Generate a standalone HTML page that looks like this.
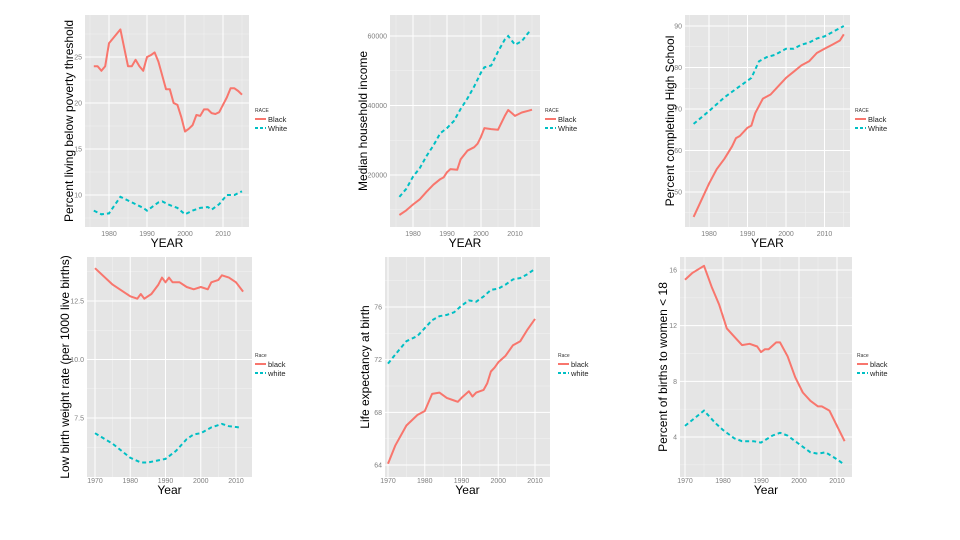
<!DOCTYPE html>
<html><head><meta charset="utf-8"><style>
body{margin:0;background:#fff;width:960px;height:540px;overflow:hidden;font-family:"Liberation Sans",sans-serif}
svg{display:block}
</style></head><body>
<svg id="c" width="960" height="540"></svg>
<script>
// Panel 1: poverty
const p1BlackYears=[1976,1977,1978,1979,1980,1981,1982,1983,1984,1985,1986,1987,1988,1989,1990,1991,1992,1993,1994,1995,1996,1997,1998,1999,2000,2001,2002,2003,2004,2005,2006,2007,2008,2009,2010,2011,2012,2013,2014,2015];
const p1Black=[24,24,23.5,24,26.5,27,27.5,28,26,24,24,24.7,24,23.5,25,25.2,25.5,24.5,23,21.5,21.5,20,19.8,18.5,16.9,17.2,17.6,18.7,18.6,19.3,19.3,18.9,18.8,19.0,19.8,20.6,21.6,21.6,21.3,20.9];
const p1WhiteYears=[1976,1978,1980,1983,1985,1987,1989,1990,1991,1993,1994,1996,1998,2000,2002,2004,2006,2007,2009,2011,2013,2015];
const p1White=[8.3,7.9,8.0,9.8,9.4,9.0,8.6,8.3,8.6,9.2,9.3,8.9,8.6,7.9,8.3,8.6,8.7,8.4,9.0,10.0,10.0,10.4];
// Panel 2: income
const p2BlackYears=[1976,1978,1980,1982,1984,1986,1988,1989,1990,1991,1993,1994,1996,1998,1999,2000,2001,2003,2005,2007,2008,2010,2012,2014,2015];
const p2Black=[8500,9800,11500,13000,15200,17200,18800,19300,20800,21700,21500,24500,27000,28000,29000,31000,33500,33200,33000,37000,38700,37000,38000,38500,38800];
const p2WhiteYears=[1976,1978,1980,1982,1984,1986,1988,1990,1992,1994,1996,1998,2000,2001,2003,2005,2007,2008,2010,2012,2014,2015];
const p2White=[13700,16000,19500,22000,25500,28500,32000,33500,35500,39000,42000,45500,49500,51000,51500,55500,59000,60000,57500,58500,61000,61500];
// Panel 3: high school
const p3BlackYears=[1976,1978,1980,1982,1984,1986,1987,1988,1990,1991,1992,1994,1996,1998,2000,2002,2004,2006,2008,2010,2012,2014,2015];
const p3Black=[44,48,52,55.5,58,61,63,63.5,65.5,66,69,72.5,73.5,75.5,77.5,79,80.5,81.5,83.5,84.5,85.5,86.5,88];
const p3WhiteYears=[1976,1980,1984,1988,1991,1993,1995,1997,2000,2002,2004,2006,2008,2010,2012,2014,2015];
const p3White=[66.4,69.5,72.8,75.5,77.5,81.5,82.5,83,84.5,84.5,85.5,86,87,87.5,88.5,89.5,90];
// Panel 4: low birth weight
const p4BlackYears=[1970,1975,1980,1982,1983,1984,1986,1988,1989,1990,1991,1992,1994,1996,1998,2000,2002,2003,2005,2006,2008,2010,2012];
const p4Black=[13.9,13.2,12.7,12.6,12.8,12.6,12.8,13.2,13.5,13.3,13.5,13.3,13.3,13.1,13.0,13.1,13.0,13.3,13.4,13.6,13.5,13.3,12.9];
const p4WhiteYears=[1970,1975,1980,1983,1985,1990,1993,1996,1998,2000,2003,2006,2008,2011];
const p4White=[6.85,6.4,5.8,5.6,5.6,5.75,6.1,6.6,6.8,6.85,7.1,7.25,7.15,7.1];
// Panel 5: life expectancy
const p5BlackYears=[1970,1972,1975,1978,1980,1982,1984,1986,1988,1989,1990,1992,1993,1994,1996,1997,1998,1999,2000,2002,2003,2004,2006,2008,2010];
const p5Black=[64.1,65.5,67.0,67.8,68.1,69.4,69.5,69.1,68.9,68.8,69.1,69.6,69.2,69.5,69.7,70.2,71.1,71.4,71.8,72.3,72.7,73.1,73.4,74.3,75.1];
const p5WhiteYears=[1970,1972,1975,1978,1980,1982,1984,1986,1988,1990,1992,1994,1996,1998,2000,2002,2004,2006,2008,2010];
const p5White=[71.7,72.4,73.4,73.8,74.4,75.0,75.3,75.4,75.6,76.1,76.5,76.4,76.8,77.3,77.4,77.7,78.1,78.2,78.5,78.9];
// Panel 6: births to women < 18
const p6BlackYears=[1970,1972,1975,1977,1979,1981,1983,1985,1987,1989,1990,1991,1992,1994,1995,1997,1999,2001,2003,2005,2006,2008,2010,2012];
const p6Black=[15.3,15.8,16.3,14.8,13.5,11.8,11.2,10.6,10.7,10.5,10.1,10.3,10.3,10.8,10.8,9.8,8.3,7.2,6.6,6.2,6.2,5.9,4.8,3.7];
const p6WhiteYears=[1970,1975,1978,1980,1983,1985,1988,1990,1993,1995,1997,2000,2003,2005,2007,2010,2012];
const p6White=[4.8,5.9,5.0,4.5,3.9,3.7,3.7,3.6,4.1,4.3,4.1,3.5,2.9,2.8,2.9,2.4,2.0];

const p1XTicks=[1980,1990,2000,2010], p1YTicks=[10,15,20,25];
const p2XTicks=[1980,1990,2000,2010], p2YTicks=[20000,40000,60000];
const p3XTicks=[1980,1990,2000,2010], p3YTicks=[50,60,70,80,90];
const p4XTicks=[1970,1980,1990,2000,2010], p4YTicks=[7.5,10.0,12.5];
const p5XTicks=[1970,1980,1990,2000,2010], p5YTicks=[64,68,72,76];
const p6XTicks=[1970,1980,1990,2000,2010], p6YTicks=[4,8,12,16];

const NS='http://www.w3.org/2000/svg';
const svg=document.getElementById('c');
function mk(tag,attrs,parent){const e=document.createElementNS(NS,tag);for(const k in attrs)e.setAttribute(k,attrs[k]);(parent||svg).appendChild(e);return e;}

const panels=[
 {id:'poverty',box:[85,15,249,227],xs:[1980,109,2000,185],ys:[25,57,10,195],xt:p1XTicks,yt:p1YTicks,yfmt:v=>String(v),
  bY:p1BlackYears,b:p1Black,wY:p1WhiteYears,w:p1White,ylab:'Percent living below poverty threshold',ylx:70,xlab:'YEAR',xly:247,tko:9,leg:[255,112],lt:'RACE',ln:['Black','White']},
 {id:'income',box:[390,15,540,227],xs:[1980,413,2000,481],ys:[60000,36,20000,175],xt:p2XTicks,yt:p2YTicks,yfmt:v=>String(v),
  bY:p2BlackYears,b:p2Black,wY:p2WhiteYears,w:p2White,ylab:'Median household income',ylx:364,xlab:'YEAR',xly:247,tko:9,leg:[545,112],lt:'RACE',ln:['Black','White']},
 {id:'highschool',box:[685,15,850,227],xs:[1980,709,2000,786],ys:[90,26,50,192],xt:p3XTicks,yt:p3YTicks,yfmt:v=>String(v),
  bY:p3BlackYears,b:p3Black,wY:p3WhiteYears,w:p3White,ylab:'Percent completing High School',ylx:671,xlab:'YEAR',xly:247,tko:9,leg:[855,112],lt:'RACE',ln:['Black','White']},
 {id:'birthweight',box:[87,257,252,477],xs:[1970,95,2010,236],ys:[12.5,301,7.5,418],xt:p4XTicks,yt:p4YTicks,yfmt:v=>v.toFixed(1),
  bY:p4BlackYears,b:p4Black,wY:p4WhiteYears,w:p4White,ylab:'Low birth weight rate (per 1000 live births)',ylx:66,xlab:'Year',xly:494,tko:6,leg:[255,357],lt:'Race',ln:['black','white']},
 {id:'lifeexp',box:[385,257,550,477],xs:[1970,388,2010,535],ys:[76,307,64,465],xt:p5XTicks,yt:p5YTicks,yfmt:v=>String(v),
  bY:p5BlackYears,b:p5Black,wY:p5WhiteYears,w:p5White,ylab:'Life expectancy at birth',ylx:366,xlab:'Year',xly:494,tko:6,leg:[558,357],lt:'Race',ln:['black','white']},
 {id:'teenbirths',box:[680,257,852,477],xs:[1970,685,2010,837],ys:[16,270,4,437],xt:p6XTicks,yt:p6YTicks,yfmt:v=>String(v),
  bY:p6BlackYears,b:p6Black,wY:p6WhiteYears,w:p6White,ylab:'Percent of births to women < 18',ylx:664,xlab:'Year',xly:494,tko:6,leg:[857,357],lt:'Race',ln:['black','white']}
];

panels.forEach(p=>{
  const g=mk('g',{});
  
  
  const [x0,y0,x1,y1]=p.box;
  const X=v=>p.xs[1]+(v-p.xs[0])*(p.xs[3]-p.xs[1])/(p.xs[2]-p.xs[0]);
  const Y=v=>p.ys[1]+(v-p.ys[0])*(p.ys[3]-p.ys[1])/(p.ys[2]-p.ys[0]);
  const bg=mk('rect',{x:x0,y:y0,width:x1-x0,height:y1-y0,fill:'#e5e5e5'},g);
  
  
  const dx=p.xt[1]-p.xt[0], dy=p.yt[1]-p.yt[0];
  for(let v=p.xt[0]-dx*1.5;v<=p.xt[p.xt.length-1]+dx*1.5;v+=dx){const px=X(v);if(px>x0&&px<x1)mk('line',{x1:px,x2:px,y1:y0,y2:y1,stroke:'#f2f2f2','stroke-width':0.5},g);}
  for(let v=p.yt[0]-dy*1.5;v<=p.yt[p.yt.length-1]+dy*1.5;v+=dy){const py=Y(v);if(py>y0&&py<y1)mk('line',{x1:x0,x2:x1,y1:py,y2:py,stroke:'#f2f2f2','stroke-width':0.5},g);}
  p.xt.forEach(v=>{const px=X(v);
    mk('line',{x1:px,x2:px,y1:y0,y2:y1,stroke:'#fff','stroke-width':1},g);
    const t=mk('text',{x:px,y:y1+p.tko,'font-size':7,fill:'#7f7f7f','text-anchor':'middle'},g);t.textContent=v;
    });
  p.yt.forEach(v=>{const py=Y(v);
    mk('line',{x1:x0,x2:x1,y1:py,y2:py,stroke:'#fff','stroke-width':1},g);
    const t=mk('text',{x:x0-3,y:py+2.5,'font-size':7,fill:'#7f7f7f','text-anchor':'end'},g);t.textContent=p.yfmt(v);
    });
  const pts=(ys,vs)=>ys.map((yr,i)=>X(yr).toFixed(1)+','+Y(vs[i]).toFixed(1)).join(' ');
  const lb=mk('polyline',{points:pts(p.bY,p.b),fill:'none',stroke:'#f8766d','stroke-width':2,'stroke-linejoin':'round'},g);
  
  const lw=mk('polyline',{points:pts(p.wY,p.w),fill:'none',stroke:'#00bfc4','stroke-width':2,'stroke-dasharray':'4,3'},g);
  
  const yl=mk('text',{x:p.ylx,y:(y0+y1)/2,'font-size':12,fill:'#000','text-anchor':'middle',transform:`rotate(-90 ${p.ylx} ${(y0+y1)/2})`,'dominant-baseline':'middle'},g);
  yl.textContent=p.ylab;
  const xl=mk('text',{x:(x0+x1)/2,y:p.xly,'font-size':12,fill:'#000','text-anchor':'middle'},g);
  xl.textContent=p.xlab;
  const [lx,ly]=p.leg;
  const lg=mk('g',{},g);
  const tt=mk('text',{x:lx,y:ly,'font-size':5,fill:'#333'},lg);tt.textContent=p.lt;
  mk('line',{x1:lx,x2:lx+11,y1:ly+7,y2:ly+7,stroke:'#f8766d','stroke-width':2},lg);
  const t1=mk('text',{x:lx+13,y:ly+10,'font-size':7.5,fill:'#222'},lg);t1.textContent=p.ln[0];
  
  mk('line',{x1:lx,x2:lx+11,y1:ly+16,y2:ly+16,stroke:'#00bfc4','stroke-width':2,'stroke-dasharray':'3,2'},lg);
  const t2=mk('text',{x:lx+13,y:ly+19,'font-size':7.5,fill:'#222'},lg);t2.textContent=p.ln[1];
  
});
</script>
</body></html>
